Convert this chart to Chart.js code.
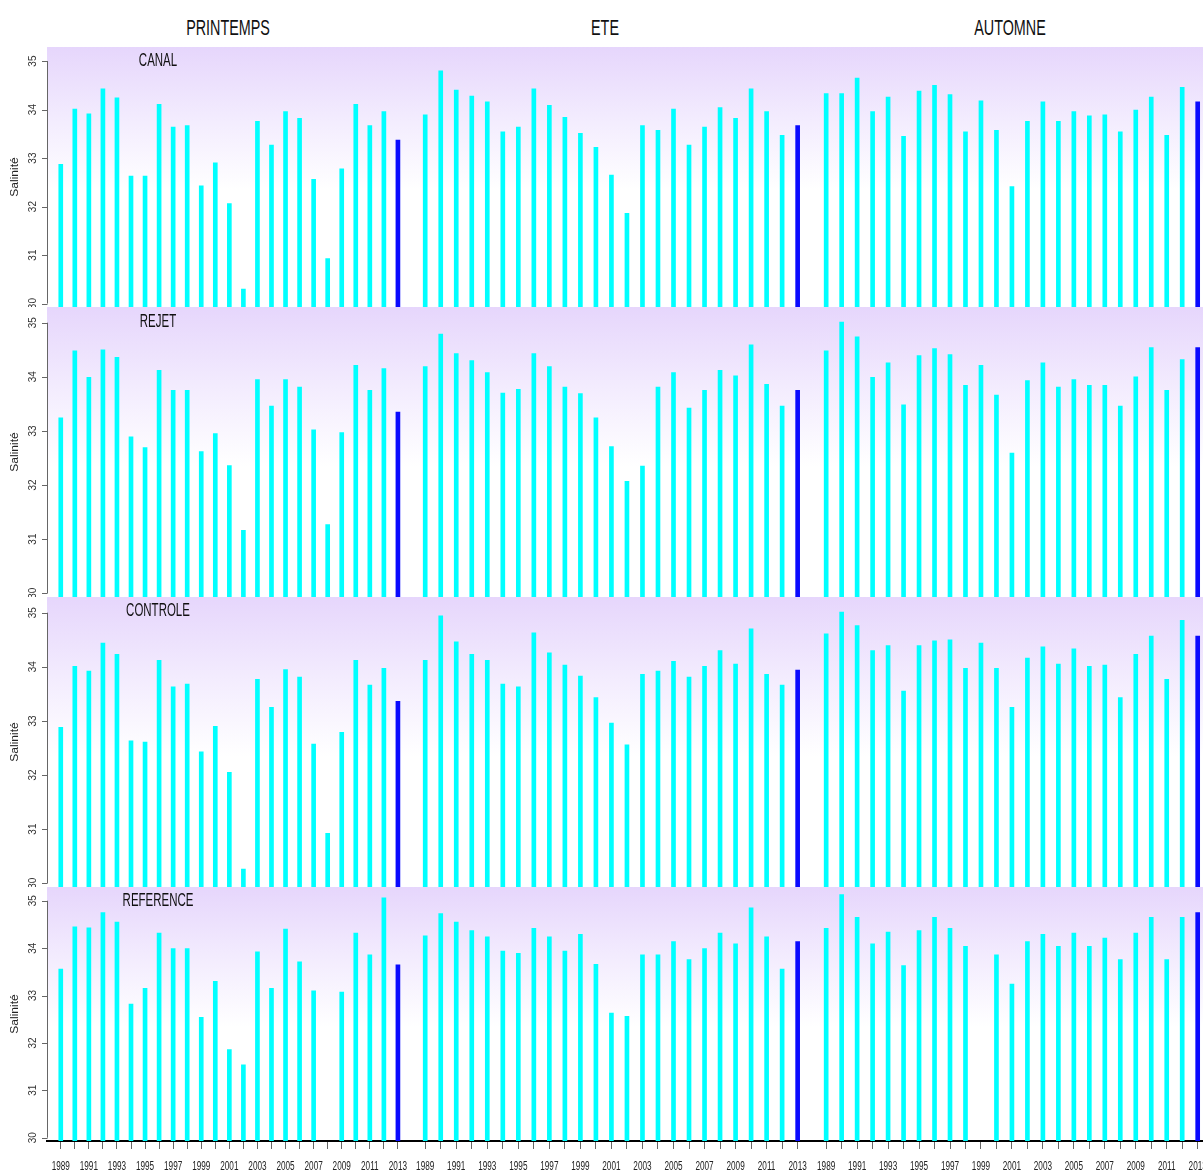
<!DOCTYPE html>
<html lang="fr">
<head>
<meta charset="utf-8">
<title>Salinité 1989-2013</title>
<script src="https://cdn.jsdelivr.net/npm/chart.js@4.4.1/dist/chart.umd.min.js"></script>
<style>
  html, body { margin:0; padding:0; background:#fff; overflow:hidden; }
  body { width:1203px; height:1171px; position:relative; font-family:'Liberation Sans', Arial, sans-serif; }
  .panel { position:absolute; }
  .txt { position:absolute; color:#111; white-space:nowrap; transform:translate(-50%,-50%) scale(0.82,1.3); }
  .saison { font-size:17.5px; }
  .station { font-size:14px; }
</style>
</head>
<body>
<script>
// --- donnees ---
const annees = [1989,1990,1991,1992,1993,1994,1995,1996,1997,1998,1999,2000,2001,2002,2003,2004,2005,2006,2007,2008,2009,2010,2011,2012,2013];
const anneesAffichees = [1989,1991,1993,1995,1997,1999,2001,2003,2005,2007,2009,2011,2013];
const saisons = ['PRINTEMPS','ETE','AUTOMNE'];
const stations = ['CANAL','REJET','CONTROLE','REFERENCE'];
const titreY = 'Salinité';

const canalPrintemps = [32.87,34.01,33.91,34.43,34.24,32.63,32.63,34.11,33.64,33.67,32.43,32.90,32.06,30.30,33.76,33.27,33.96,33.82,32.56,30.93,32.78,34.11,33.67,33.96,33.37];
const canalEte = [33.89,34.80,34.40,34.28,34.16,33.54,33.64,34.43,34.09,33.84,33.51,33.22,32.65,31.86,33.67,33.57,34.01,33.27,33.64,34.04,33.82,34.43,33.96,33.47,33.67];
const canalAutomne = [34.33,34.33,34.65,33.96,34.26,33.45,34.38,34.50,34.31,33.54,34.18,33.57,32.41,33.76,34.16,33.76,33.96,33.87,33.89,33.54,33.99,34.26,33.47,34.46,34.16];

const rejetPrintemps = [33.24,34.48,33.99,34.50,34.36,32.89,32.69,34.12,33.75,33.75,32.62,32.95,32.36,31.16,33.95,33.46,33.95,33.81,33.02,31.27,32.97,34.21,33.75,34.15,33.35];
const rejetEte = [34.19,34.79,34.43,34.30,34.08,33.70,33.77,34.43,34.19,33.81,33.69,33.24,32.71,32.07,32.35,33.81,34.08,33.42,33.75,34.12,34.02,34.59,33.86,33.46,33.75];
const rejetAutomne = [34.48,35.01,34.74,33.99,34.26,33.48,34.39,34.52,34.41,33.84,34.21,33.66,32.59,33.93,34.26,33.81,33.95,33.84,33.84,33.46,34.00,34.54,33.75,34.32,34.54];

const controlePrintemps = [32.88,34.01,33.92,34.44,34.23,32.63,32.61,34.12,33.63,33.68,32.43,32.90,32.05,30.26,33.77,33.25,33.95,33.81,32.57,30.92,32.79,34.12,33.66,33.97,33.36];
const controleEte = [34.12,34.94,34.46,34.23,34.12,33.68,33.63,34.63,34.26,34.03,33.83,33.43,32.96,32.56,33.86,33.92,34.10,33.81,34.01,34.30,34.05,34.70,33.86,33.66,33.94];
const controleAutomne = [34.61,35.01,34.76,34.30,34.39,33.55,34.39,34.48,34.50,33.97,34.44,33.97,33.25,34.16,34.37,34.05,34.33,34.01,34.03,33.43,34.23,34.57,33.77,34.86,34.57];

const referencePrintemps = [33.56,34.45,34.43,34.75,34.55,32.82,33.15,34.32,33.99,33.99,32.54,33.30,31.86,31.54,33.92,33.15,34.40,33.71,33.10,null,33.07,34.32,33.86,35.06,33.65];
const referenceEte = [34.26,34.73,34.55,34.37,34.24,33.94,33.89,34.42,34.24,33.94,34.29,33.66,32.63,32.56,33.86,33.86,34.14,33.76,33.99,34.32,34.09,34.85,34.24,33.56,34.14];
const referenceAutomne = [34.42,35.13,34.65,34.09,34.34,33.63,34.37,34.65,34.42,34.04,null,33.86,33.24,34.14,34.29,34.04,34.32,34.04,34.21,33.76,34.32,34.65,33.76,34.65,34.75];

const series = [
  [canalPrintemps, canalEte, canalAutomne],
  [rejetPrintemps, rejetEte, rejetAutomne],
  [controlePrintemps, controleEte, controleAutomne],
  [referencePrintemps, referenceEte, referenceAutomne]
];

// --- mise en page (zones de trace en px) ---
const colonnes = [{left:47, width:363}, {left:410, width:401}, {left:811, width:400}];
const lignes = [{top:47, height:260}, {top:307, height:290}, {top:597, height:290}, {top:887, height:254}];
const axeYLarg = 47, axeXHaut = 30;

// fond degrade lavande -> blanc
const fondDegrade = {
  id: 'fondDegrade',
  beforeDraw(chart) {
    const {ctx, chartArea: a} = chart;
    const g = ctx.createLinearGradient(0, a.top, 0, a.bottom);
    g.addColorStop(0, 'rgb(230,214,252)');
    g.addColorStop(0.28, 'rgb(243,236,254)');
    g.addColorStop(0.55, 'rgb(255,255,255)');
    g.addColorStop(1, 'rgb(255,255,255)');
    ctx.save();
    ctx.fillStyle = g;
    ctx.fillRect(a.left, a.top, a.right - a.left, a.bottom - a.top);
    ctx.restore();
  }
};

// axes facon R : etiquettes Y tournees, annees etirees
const axesR = {
  id: 'axesR',
  afterDraw(chart) {
    const {ctx, chartArea: a} = chart;
    const y = chart.scales.y, x = chart.scales.x;
    ctx.save();
    if (y.options.display) {
      const vals = y.ticks.map(t => t.value);
      const yHaut = y.getPixelForValue(Math.max(...vals));
      const yBas = y.getPixelForValue(Math.min(...vals));
      ctx.strokeStyle = '#666';
      ctx.lineWidth = 1;
      ctx.beginPath();
      ctx.moveTo(a.left + 0.5, yHaut);
      ctx.lineTo(a.left + 0.5, yBas);
      vals.forEach(v => {
        const py = Math.round(y.getPixelForValue(v)) + 0.5;
        ctx.moveTo(a.left - 5, py);
        ctx.lineTo(a.left + 0.5, py);
      });
      ctx.stroke();
      ctx.fillStyle = '#333';
      ctx.font = '10px "Liberation Sans", Arial, sans-serif';
      ctx.textAlign = 'center';
      ctx.textBaseline = 'middle';
      vals.forEach(v => {
        ctx.save();
        ctx.translate(a.left - 14, y.getPixelForValue(v));
        ctx.rotate(-Math.PI / 2);
        ctx.fillText(String(v), 0, 0);
        ctx.restore();
      });
      ctx.save();
      ctx.translate(15, (a.top + a.bottom) / 2);
      ctx.rotate(-Math.PI / 2);
      ctx.scale(1.2, 1);
      ctx.fillStyle = '#222';
      ctx.fillText(titreY, 0, 0);
      ctx.restore();
    }
    if (x.options.display) {
      ctx.fillStyle = '#222';
      ctx.font = '10px "Liberation Sans", Arial, sans-serif';
      ctx.textAlign = 'center';
      ctx.textBaseline = 'middle';
      x.ticks.forEach(t => {
        if (!anneesAffichees.includes(t.value)) return;
        ctx.save();
        ctx.translate(x.getPixelForValue(t.value), a.bottom + 25.5);
        ctx.scale(0.82, 1.3);
        ctx.fillText(String(t.value), 0, 0);
        ctx.restore();
      });
    }
    ctx.restore();
  }
};

function ajouterTexte(txt, cls, cx, cy) {
  const d = document.createElement('div');
  d.className = 'txt ' + cls;
  d.textContent = txt;
  d.style.left = cx + 'px';
  d.style.top = cy + 'px';
  document.body.appendChild(d);
}

function creerPanneau(r, c, valeurs) {
  const col = colonnes[c], lig = lignes[r];
  const gauche = c === 0;
  const bas = r === lignes.length - 1;
  const left = gauche ? col.left - axeYLarg : col.left;
  const width = col.width + (gauche ? axeYLarg : 0);
  const height = lig.height + (bas ? axeXHaut : 0);

  const box = document.createElement('div');
  box.className = 'panel';
  box.style.left = left + 'px';
  box.style.top = lig.top + 'px';
  const canvas = document.createElement('canvas');
  canvas.width = width;
  canvas.height = height;
  box.appendChild(canvas);
  document.body.appendChild(box);

  new Chart(canvas, {
    type: 'bar',
    data: {
      datasets: [{
        data: annees.map((a, i) => ({x: a, y: valeurs[i]})),
        backgroundColor: annees.map(a => a === 2013 ? '#0a0aff' : '#00ffff'),
        borderWidth: 0,
        barThickness: 4
      }]
    },
    options: {
      responsive: false,
      animation: false,
      devicePixelRatio: 1,
      layout: { padding: 0 },
      plugins: { legend: { display: false }, tooltip: { enabled: false } },
      scales: {
        x: {
          type: 'linear', min: 1988.02, max: 2013.86, offset: false,
          display: bas,
          ticks: { stepSize: 1, includeBounds: false, autoSkip: false, display: false },
          grid: { offset: false, drawOnChartArea: false, drawTicks: true, tickLength: 8, color: '#666' },
          border: { color: '#000', width: 2 },
          afterFit: s => { if (s.options.display) s.height = axeXHaut; }
        },
        y: {
          type: 'linear', min: 29.93, max: 35.29, beginAtZero: false,
          display: gauche,
          ticks: { stepSize: 1, includeBounds: false, display: false },
          grid: { display: false },
          border: { display: false },
          afterFit: s => { if (s.options.display) s.width = axeYLarg; }
        }
      }
    },
    plugins: [fondDegrade, axesR]
  });
}

// Init
series.forEach((ligne, r) => ligne.forEach((vals, c) => creerPanneau(r, c, vals)));

// titres des saisons et des stations
ajouterTexte(saisons[0], 'saison', 228, 28);
ajouterTexte(saisons[1], 'saison', 605, 28);
ajouterTexte(saisons[2], 'saison', 1010, 28);
stations.forEach((s, r) => ajouterTexte(s, 'station', 158, lignes[r].top + 13));
</script>
</body>
</html>
